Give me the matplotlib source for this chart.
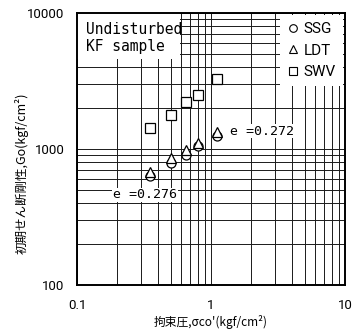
import numpy as np
import matplotlib.pyplot as plt
from matplotlib.patches import Rectangle
from matplotlib.lines import Line2D

# confining pressure (kgf/cm2) and initial shear modulus Go (kgf/cm2)
sigma = [0.35, 0.5, 0.65, 0.8, 1.1]
go_ssg = [630, 790, 900, 1050, 1250]
go_ldt = [680, 855, 985, 1110, 1330]
go_swv = [1435, 1780, 2230, 2500, 3250]

xticks = [0.1, 1, 10]
xtick_labels = ["0.1", "1", "10"]
yticks = [100, 1000, 10000]
ytick_labels = ["100", "1000", "10000"]

plt.rcParams['font.family'] = ['Roboto', 'Noto Sans CJK JP', 'DejaVu Sans']

fig = plt.figure(figsize=(3.61, 3.34), dpi=100)
ax = fig.add_axes([77/361, 49/334, 268/361, 272/334])

ax.set_xscale('log')
ax.set_yscale('log')
ax.set_xlim(0.1, 10)
ax.set_ylim(100, 10000)

# full log grid, like graph paper
ax.set_axisbelow(True)
ax.grid(True, which='both', color='#1a1a1a', lw=0.7)

ax.set_xticks(xticks, xtick_labels)
ax.set_yticks(yticks, ytick_labels)
ax.tick_params(which='both', length=0, labelsize=9.5, pad=9)
ax.tick_params(axis='x', pad=10)
ax.xaxis.set_minor_formatter(plt.NullFormatter())
ax.yaxis.set_minor_formatter(plt.NullFormatter())
for sp in ax.spines.values():
    sp.set_linewidth(1.4)

# white area behind the sample note
ax.add_patch(Rectangle((0, 0.83), 0.385, 0.17, transform=ax.transAxes,
                       facecolor='white', edgecolor='none', zorder=1))
ax.text(0.034, 0.9375, "Undisturbed", transform=ax.transAxes, ha='left', va='center',
        family='DejaVu Sans Mono', fontsize=10.5, zorder=3)
ax.text(0.034, 0.875, "KF sample", transform=ax.transAxes, ha='left', va='center',
        family='DejaVu Sans Mono', fontsize=10.5, zorder=3)

mk = dict(ls='none', mfc='white', mec='black', mew=0.9, ms=6.5, zorder=4)
ax.plot(sigma, go_swv, marker='s', **mk)
ax.plot(sigma, go_ssg, marker='o', **mk)
ax.plot(sigma, go_ldt, marker='^', **mk)

ax.text(1.39, 1355, "e =0.272", ha='left', va='center', family='DejaVu Sans Mono',
        fontsize=9.5, zorder=3,
        bbox=dict(facecolor='white', edgecolor='none', pad=0.5))
ax.text(0.186, 460, "e =0.276", ha='left', va='center', family='DejaVu Sans Mono',
        fontsize=9.5, zorder=3,
        bbox=dict(facecolor='white', edgecolor='none', pad=0.5))

handles = [Line2D([], [], marker='o', ls='none', mfc='white', mec='black', mew=0.8, ms=5.5),
           Line2D([], [], marker='^', ls='none', mfc='white', mec='black', mew=0.8, ms=5.5),
           Line2D([], [], marker='s', ls='none', mfc='white', mec='black', mew=0.8, ms=5.5)]
leg = ax.legend(handles, ["SSG", "LDT", "SWV"], loc='upper right', fontsize=11,
                handlelength=0.8, handletextpad=0.3, labelspacing=0.5,
                borderaxespad=0.15, borderpad=0.45, frameon=True, fancybox=False,
                facecolor='white', edgecolor='none', framealpha=1)
leg.set_zorder(5)

ax.set_xlabel("拘束圧,σco'(kgf/cm²)", fontsize=8.5, family=['Noto Sans CJK JP', 'DejaVu Sans'])
ax.set_ylabel("初期せん断剛性,Go(kgf/cm²)", fontsize=9, family=['Noto Sans CJK JP', 'DejaVu Sans'])
ax.xaxis.set_label_coords(0.5, -0.112)
ax.yaxis.set_label_coords(-0.18, 0.41)

fig.savefig("out.png", dpi=100)
